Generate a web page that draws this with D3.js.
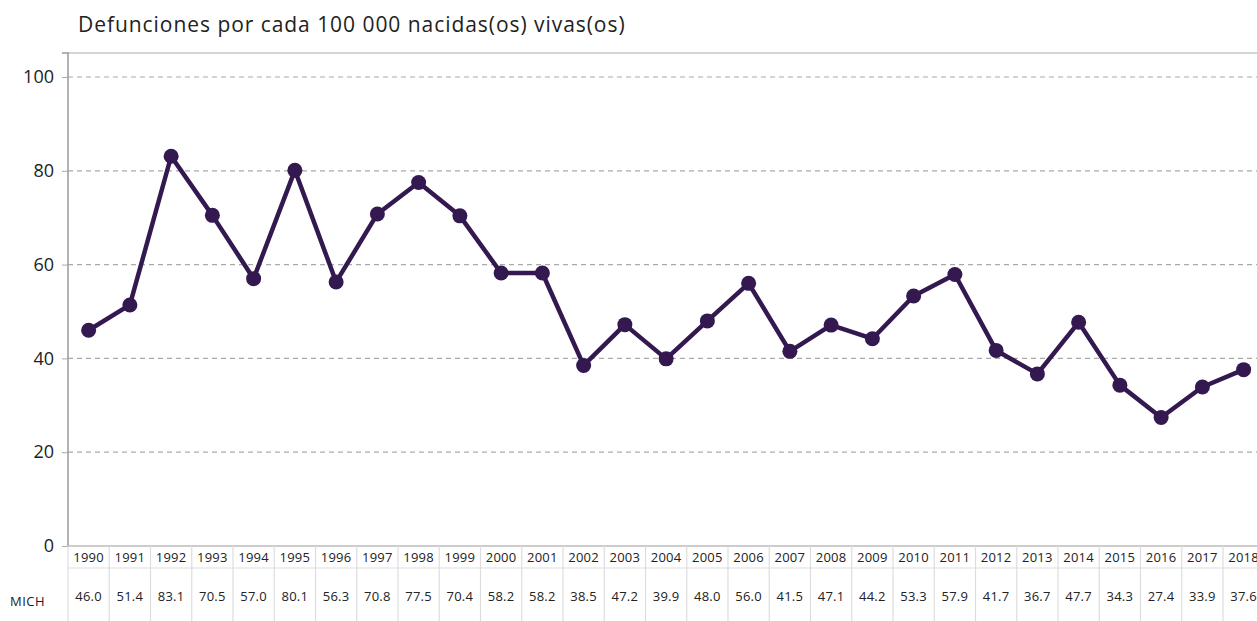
<!DOCTYPE html>
<html>
<head>
<meta charset="utf-8">
<script src="https://cdn.jsdelivr.net/npm/d3@7"></script>
<style>
  html, body { margin: 0; padding: 0; background: #fff; overflow: hidden; }
  svg { display: block; font-family: "Open Sans", "Noto Sans", sans-serif; }
</style>
</head>
<body>
<svg id="chart" width="1257" height="621"></svg>
<script>
// Maternal mortality ratio, Michoacán
const years = ["1990","1991","1992","1993","1994","1995","1996","1997","1998","1999",
  "2000","2001","2002","2003","2004","2005","2006","2007","2008","2009",
  "2010","2011","2012","2013","2014","2015","2016","2017","2018"];
const mich = [46.0,51.4,83.1,70.5,57.0,80.1,56.3,70.8,77.5,70.4,
  58.2,58.2,38.5,47.2,39.9,48.0,56.0,41.5,47.1,44.2,
  53.3,57.9,41.7,36.7,47.7,34.3,27.4,33.9,37.6];
const yTicks = [0, 20, 40, 60, 80, 100];
const seriesName = "MICH";
const titleText = "Defunciones por cada 100 000 nacidas(os) vivas(os)";

const svg = d3.select("#chart");
const plotLeft = 68, plotTop = 53, plotBottom = 546, colW = 41.25;
const plotRight = plotLeft + colW * years.length;
const headerBottom = 568, tableBottom = 621;
const color = "#33194f";

const x = d3.scaleBand().domain(years).range([plotLeft, plotRight]).padding(0);
const y = d3.scaleLinear().domain([0, 100]).range([plotBottom, 77]);

// title
svg.append("text").attr("x", 78).attr("y", 32)
  .attr("font-size", 21).attr("letter-spacing", 0.95).attr("fill", "#222").text(titleText);

// plot frame: top border
svg.append("line").attr("x1", plotLeft).attr("x2", 1257).attr("y1", plotTop).attr("y2", plotTop)
  .attr("stroke", "#aaa").attr("stroke-width", 1.2);

// gridlines
svg.append("g").selectAll("line").data(yTicks.filter(d => d > 0)).join("line")
  .attr("x1", plotLeft).attr("x2", 1257)
  .attr("y1", d => y(d)).attr("y2", d => y(d))
  .attr("stroke", "#aaa").attr("stroke-width", 1.2).attr("stroke-dasharray", "5,4");

// y axis
const yAxis = svg.append("g").attr("transform", `translate(${plotLeft},0)`)
  .call(d3.axisLeft(y).tickValues(yTicks).tickSize(6).tickPadding(8).tickFormat(d3.format("d")));
yAxis.select(".domain").attr("stroke", "#999").attr("stroke-width", 1.5)
  .attr("d", `M-6,${plotTop}H0V${plotBottom}`);
yAxis.selectAll(".tick line").attr("stroke", "#aaa");
yAxis.selectAll(".tick text").attr("font-size", 18).attr("fill", "#222")
  .attr("font-family", "'Open Sans', sans-serif");

// baseline
svg.append("line").attr("x1", plotLeft).attr("x2", 1257).attr("y1", plotBottom).attr("y2", plotBottom)
  .attr("stroke", "#bbb").attr("stroke-width", 1.5);

// data table
const table = svg.append("g");
table.append("line").attr("x1", plotLeft).attr("x2", 1257)
  .attr("y1", headerBottom).attr("y2", headerBottom)
  .attr("stroke", "#ddd").attr("stroke-width", 1.2);
table.selectAll("line.sep").data(years).join("line").attr("class", "sep")
  .attr("x1", d => x(d)).attr("x2", d => x(d))
  .attr("y1", plotBottom).attr("y2", tableBottom)
  .attr("stroke", "#ddd").attr("stroke-width", 1.2);
table.selectAll("text.year").data(years).join("text").attr("class", "year")
  .attr("x", d => x(d) + x.bandwidth() / 2).attr("y", 562)
  .attr("text-anchor", "middle").attr("font-size", 13).attr("letter-spacing", 0.3).attr("fill", "#222")
  .text(d => d);
table.selectAll("text.val").data(mich).join("text").attr("class", "val")
  .attr("x", (d, i) => x(years[i]) + x.bandwidth() / 2).attr("y", 601)
  .attr("text-anchor", "middle").attr("font-size", 13).attr("letter-spacing", 0.3).attr("fill", "#222")
  .text(d => d.toFixed(1));
table.append("text").attr("x", 10).attr("y", 606).attr("font-size", 13)
  .attr("letter-spacing", 0.5).attr("fill", "#222").text(seriesName);

// series line and markers
const pts = mich.map((v, i) => ({ year: years[i], v }));
svg.append("path").datum(pts)
  .attr("fill", "none").attr("stroke", color).attr("stroke-width", 4.5)
  .attr("stroke-linejoin", "round")
  .attr("d", d3.line().x(d => x(d.year) + x.bandwidth() / 2).y(d => y(d.v)));
svg.append("g").selectAll("circle").data(pts).join("circle")
  .attr("cx", d => x(d.year) + x.bandwidth() / 2).attr("cy", d => y(d.v))
  .attr("r", 7.5).attr("fill", color);
</script>
</body>
</html>
